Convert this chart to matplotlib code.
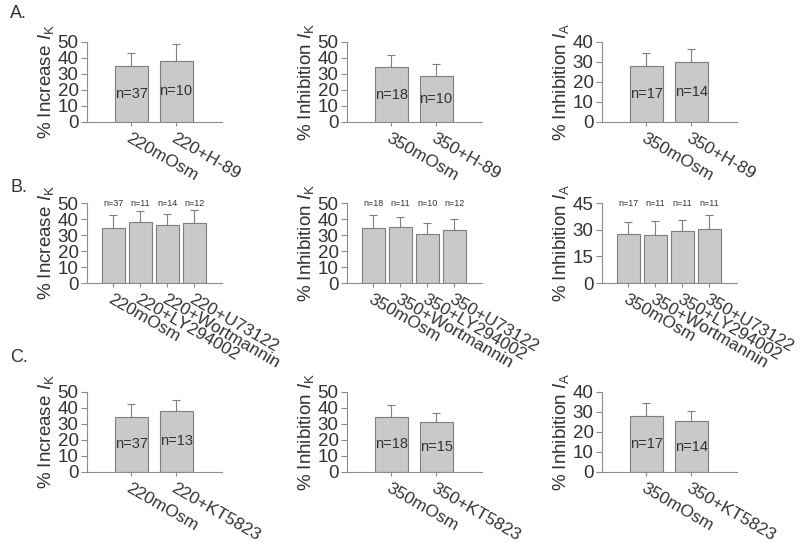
import matplotlib
matplotlib.use("Agg")
import matplotlib.pyplot as plt
import numpy as np

plt.rcParams['font.family'] = ['Liberation Sans', 'DejaVu Sans']
plt.rcParams['mathtext.fontset'] = 'custom'
plt.rcParams['mathtext.rm'] = 'Liberation Sans'
plt.rcParams['mathtext.it'] = 'Liberation Sans:italic'

TEXT = '#333333'
AXIS = '#8c8c8c'
BAR = '#c9c9c9'
EDGE = '#7f7f7f'

# ---- data ----
a1_labels = ['220mOsm', '220+H-89']
a1_means = [34.9, 38.4]
a1_err = [8.3, 10.6]
a1_n = ['n=37', 'n=10']

a2_labels = ['350mOsm', '350+H-89']
a2_means = [34.2, 29.0]
a2_err = [7.8, 7.4]
a2_n = ['n=18', 'n=10']

a3_labels = ['350mOsm', '350+H-89']
a3_means = [27.8, 30.2]
a3_err = [6.9, 6.2]
a3_n = ['n=17', 'n=14']

b1_labels = ['220mOsm', '220+LY294002', '220+Wortmannin', '220+U73122']
b1_means = [34.4, 38.1, 36.5, 37.7]
b1_err = [8.3, 7.1, 6.6, 7.9]
b1_n = ['n=37', 'n=11', 'n=14', 'n=12']

b2_labels = ['350mOsm', '350+Wortmannin', '350+LY294002', '350+U73122']
b2_means = [34.5, 34.7, 30.8, 33.3]
b2_err = [8.0, 6.5, 6.9, 6.9]
b2_n = ['n=18', 'n=11', 'n=10', 'n=12']

b3_labels = ['350mOsm', '350+Wortmannin', '350+LY294002', '350+U73122']
b3_means = [27.8, 27.2, 29.5, 30.2]
b3_err = [6.5, 7.5, 6.0, 8.1]
b3_n = ['n=17', 'n=11', 'n=11', 'n=11']

c1_labels = ['220mOsm', '220+KT5823']
c1_means = [34.6, 38.3]
c1_err = [8.1, 6.9]
c1_n = ['n=37', 'n=13']

c2_labels = ['350mOsm', '350+KT5823']
c2_means = [34.6, 31.3]
c2_err = [7.5, 5.8]
c2_n = ['n=18', 'n=15']

c3_labels = ['350mOsm', '350+KT5823']
c3_means = [27.8, 25.3]
c3_err = [6.8, 5.3]
c3_n = ['n=17', 'n=14']

ylab_inc_k = r'% Increase $\mathit{I}_\mathrm{K}$'
ylab_inh_k = r'% Inhibition $\mathit{I}_\mathrm{K}$'
ylab_inh_a = r'% Inhibition $\mathit{I}_\mathrm{A}$'

panels = [
    # row, col, labels, means, err, n, ylabel, ymax, yticks, n on top
    (0, 0, a1_labels, a1_means, a1_err, a1_n, ylab_inc_k, 50, [0, 10, 20, 30, 40, 50], False),
    (0, 1, a2_labels, a2_means, a2_err, a2_n, ylab_inh_k, 50, [0, 10, 20, 30, 40, 50], False),
    (0, 2, a3_labels, a3_means, a3_err, a3_n, ylab_inh_a, 40, [0, 10, 20, 30, 40], False),
    (1, 0, b1_labels, b1_means, b1_err, b1_n, ylab_inc_k, 50, [0, 10, 20, 30, 40, 50], True),
    (1, 1, b2_labels, b2_means, b2_err, b2_n, ylab_inh_k, 50, [0, 10, 20, 30, 40, 50], True),
    (1, 2, b3_labels, b3_means, b3_err, b3_n, ylab_inh_a, 45, [0, 15, 30, 45], True),
    (2, 0, c1_labels, c1_means, c1_err, c1_n, ylab_inc_k, 50, [0, 10, 20, 30, 40, 50], False),
    (2, 1, c2_labels, c2_means, c2_err, c2_n, ylab_inh_k, 50, [0, 10, 20, 30, 40, 50], False),
    (2, 2, c3_labels, c3_means, c3_err, c3_n, ylab_inh_a, 40, [0, 10, 20, 30, 40], False),
]

W, H = 800, 546
col_left = [87, 347, 602]
row_top = [42, 203, 392]
ax_w, ax_h = 135, 80

fig = plt.figure(figsize=(W / 100, H / 100), dpi=100)

for row, col, labels, means, err, nlab, ylabel, ymax, yticks, ntop in panels:
    left = col_left[col] / W
    bottom = 1 - (row_top[row] + ax_h) / H
    ax = fig.add_axes([left, bottom, ax_w / W, ax_h / H])
    nb = len(means)
    x = np.arange(nb)
    width = 0.73 if nb == 2 else 0.85

    ax.bar(x, means, width=width, color=BAR, edgecolor=EDGE, linewidth=0.8, zorder=2)
    ax.errorbar(x, means, yerr=[np.zeros(nb), err], fmt='none', ecolor=EDGE,
                elinewidth=0.8, capsize=3, capthick=0.8, zorder=1)

    for xi, m, t in zip(x, means, nlab):
        if ntop:
            ax.text(xi, ymax * 0.99, t, ha='center', va='center', fontsize=6.5, color=TEXT)
        else:
            ax.text(xi, m / 2, t, ha='center', va='center', fontsize=10.5, color=TEXT)

    ax.set_xlim(-0.98, nb + 0.02)
    ax.set_ylim(0, ymax)
    ax.set_yticks(yticks)
    ax.set_xticks(x)
    ax.set_xticklabels(labels, rotation=-30, ha='left', va='top',
                       rotation_mode='anchor', fontsize=12.5, color=TEXT)
    ax.tick_params(axis='y', labelsize=13.5, colors=AXIS, labelcolor=TEXT, length=4, width=0.8, pad=2)
    ax.tick_params(axis='x', colors=AXIS, labelcolor=TEXT, length=3, width=0.8, pad=3)
    ax.set_ylabel(ylabel, fontsize=13.5, color=TEXT, labelpad=1)
    for s in ['top', 'right']:
        ax.spines[s].set_visible(False)
    for s in ['left', 'bottom']:
        ax.spines[s].set_color(AXIS)
        ax.spines[s].set_linewidth(0.8)

fig.text(10 / W, 1 - 13 / H, 'A.', fontsize=13, color=TEXT, va='center')
fig.text(10 / W, 1 - 187 / H, 'B.', fontsize=13, color=TEXT, va='center')
fig.text(10 / W, 1 - 358 / H, 'C.', fontsize=13, color=TEXT, va='center')

fig.savefig('out.png', dpi=100, facecolor='white')
